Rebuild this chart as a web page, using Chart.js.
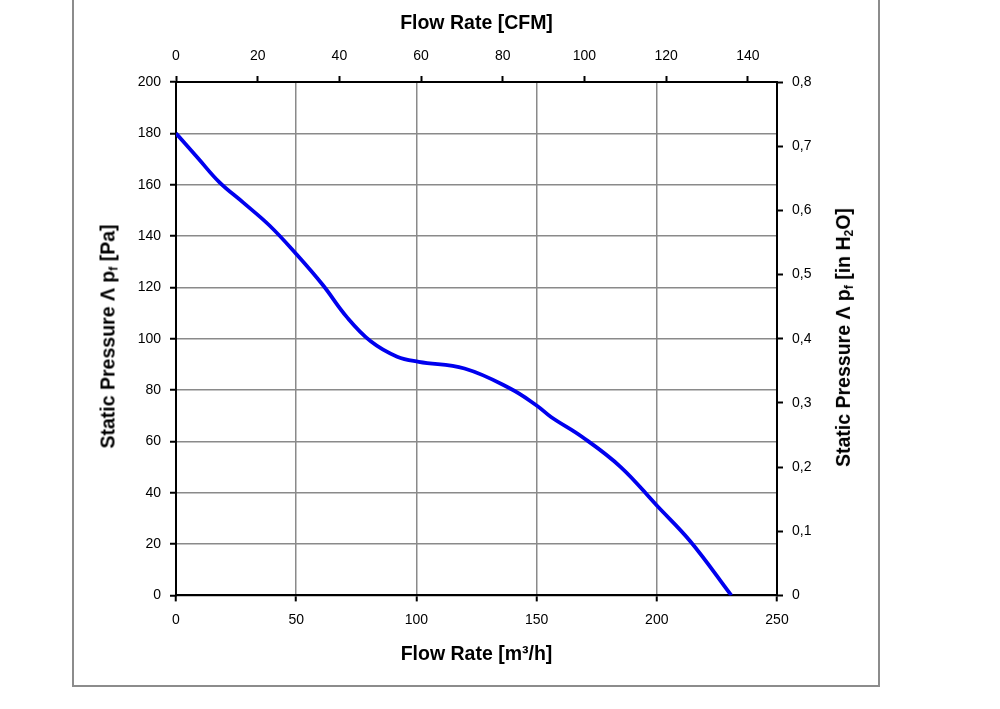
<!DOCTYPE html>
<html>
<head>
<meta charset="utf-8">
<script src="https://cdn.jsdelivr.net/npm/chart.js@4/dist/chart.umd.min.js"></script>
<style>
  html, body { margin: 0; padding: 0; background: #fff; }
  #wrap { position: relative; width: 1000px; height: 709px; overflow: hidden; }
  #frame { position: absolute; left: 72px; top: -4px; width: 808px; height: 691px; border: 2px solid #8c8c8c; box-sizing: border-box; }
  canvas { position: absolute; left: 0; top: 0; }
  .vt { position: absolute; font-family: "Liberation Sans", Arial, sans-serif; font-weight: bold; font-size: 19.5px; white-space: nowrap; color: #000; transform-origin: center center; }
  .vt sub { font-size: 12px; vertical-align: -3px; line-height: 0; }
</style>
</head>
<body>
<div id="wrap">
  <div id="frame"></div>
  <canvas id="c" width="1000" height="709"></canvas>
  <div class="vt" id="tl">Static Pressure Λ p<sub>f</sub> [Pa]</div>
  <div class="vt" id="tr">Static Pressure Λ p<sub>f</sub> [in H<sub>2</sub>O]</div>
</div>
<script>
// Data
const flowM3h = [0, 9, 18, 28, 39, 50, 61, 71, 81, 92, 101, 120, 139, 150, 156, 169, 185, 200, 214, 231];
const pressurePa = [180, 170.5, 161, 153, 144, 133, 121, 108.5, 99, 93, 91, 88.4, 80.6, 74, 69.5, 61.7, 50, 35, 21, 0];

// Tick labels
const bottomTicks = [0, 50, 100, 150, 200, 250];
const topTicksCFM = [0, 20, 40, 60, 80, 100, 120, 140];
const leftTicks = [0, 20, 40, 60, 80, 100, 120, 140, 160, 180, 200];
const rightTicks = [0, 0.1, 0.2, 0.3, 0.4, 0.5, 0.6, 0.7, 0.8];

const M3H_PER_CFM = 1.699;
const FONT = '"Liberation Sans", Arial, sans-serif';

const points = flowM3h.map((x, i) => ({ x: x, y: pressurePa[i] }));

function fixTicks(values) {
  return function (scale) { scale.ticks = values.map(v => ({ value: v })); };
}
function fixSize(prop, size) {
  return function (scale) { scale[prop] = size; };
}

const tickFont = { family: FONT, size: 14 };
const titleFont = { family: FONT, size: 19.5, weight: 'bold' };

new Chart(document.getElementById('c'), {
  type: 'line',
  data: {
    datasets: [{
      data: points,
      borderColor: '#0000ee',
      borderWidth: 3.8,
      pointRadius: 0,
      fill: false,
      tension: 0.4,
      xAxisID: 'x',
      yAxisID: 'y'
    }]
  },
  options: {
    responsive: false,
    animation: false,
    events: [],
    layout: { padding: { left: 0, right: 0, top: 12, bottom: 43 } },
    plugins: { legend: { display: false }, tooltip: { enabled: false } },
    scales: {
      x: {
        type: 'linear', position: 'bottom', min: 0, max: 250,
        afterBuildTicks: fixTicks(bottomTicks),
        afterFit: fixSize('height', 70.6),
        border: { color: '#000', width: 2 },
        grid: { color: '#8a8a8a', lineWidth: 1.5, tickColor: '#000', tickWidth: 2, tickLength: 6 },
        ticks: { color: '#000', font: tickFont, padding: 10, maxRotation: 0 },
        title: { display: true, text: 'Flow Rate [m³/h]', color: '#000', font: titleFont, padding: 0 }
      },
      x2: {
        type: 'linear', position: 'top', min: 0, max: 250 / M3H_PER_CFM,
        afterBuildTicks: fixTicks(topTicksCFM),
        afterFit: fixSize('height', 70),
        border: { color: '#000', width: 2 },
        grid: { drawOnChartArea: false, color: '#000', tickColor: '#000', tickWidth: 2, tickLength: 6 },
        ticks: { color: '#000', font: tickFont, padding: 11, maxRotation: 0 },
        title: { display: true, text: 'Flow Rate [CFM]', color: '#000', font: titleFont, padding: 0 }
      },
      y: {
        type: 'linear', position: 'left', min: 0, max: 200,
        afterBuildTicks: fixTicks(leftTicks),
        afterFit: fixSize('width', 176),
        border: { color: '#000', width: 2 },
        grid: { color: '#8a8a8a', lineWidth: 1.5, tickColor: '#000', tickWidth: 2, tickLength: 6 },
        ticks: { color: '#000', font: tickFont, padding: 9 }
      },
      y2: {
        type: 'linear', position: 'right', min: 0, max: 0.8,
        afterBuildTicks: fixTicks(rightTicks),
        afterFit: fixSize('width', 223),
        border: { color: '#000', width: 2 },
        grid: { drawOnChartArea: false, color: '#000', tickColor: '#000', tickWidth: 2, tickLength: 6 },
        ticks: {
          color: '#000', font: tickFont, padding: 9,
          callback: v => (Math.round(v * 10) / 10).toString().replace('.', ',')
        }
      }
    }
  }
});

function placeVertical(id, cx, cy) {
  const el = document.getElementById(id);
  const w = el.offsetWidth, h = el.offsetHeight;
  el.style.left = (cx - w / 2) + 'px';
  el.style.top = (cy - h / 2) + 'px';
  el.style.transform = 'rotate(-90deg)';
}
placeVertical('tl', 108, 336);
placeVertical('tr', 843, 337);
</script>
</body>
</html>
